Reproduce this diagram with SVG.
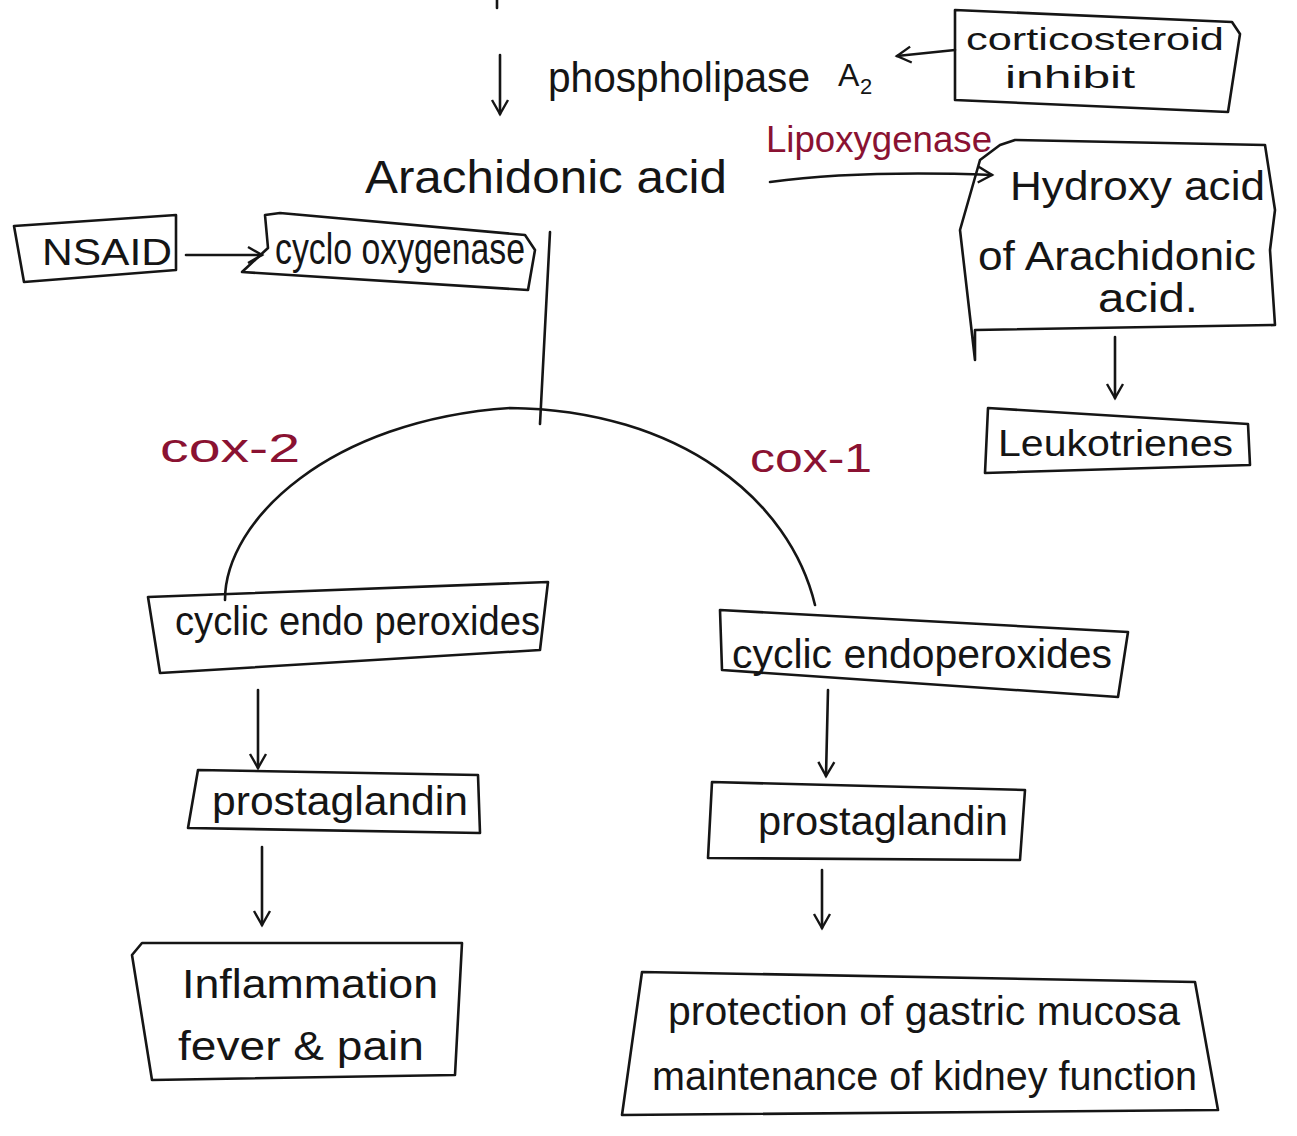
<svg xmlns="http://www.w3.org/2000/svg" width="1297" height="1136" viewBox="0 0 1297 1136">
<defs>
<style>
.ink{fill:none;stroke:#151515;stroke-width:2.6;stroke-linecap:round;stroke-linejoin:round}
.t{font-family:"Liberation Sans","DejaVu Sans",sans-serif;fill:#151515}
.r{font-family:"Liberation Sans","DejaVu Sans",sans-serif;fill:#8a1232}
</style>
<marker id="ah" viewBox="0 0 20 20" refX="16" refY="10" markerWidth="20" markerHeight="20" markerUnits="userSpaceOnUse" orient="auto">
<path d="M2,2 L16,10 L2,18" fill="none" stroke="#151515" stroke-width="2.4"/>
</marker>
</defs>
<rect width="1297" height="1136" fill="#ffffff"/>

<g id="connectors">
<line class="ink" x1="497" y1="0" x2="497" y2="8"/>
<line class="ink" x1="500" y1="55" x2="500" y2="114" marker-end="url(#ah)"/>
<line class="ink" x1="955" y1="50" x2="897" y2="56" marker-end="url(#ah)"/>
<path class="ink" d="M770,182 Q860,170 992,175" marker-end="url(#ah)"/>
<line class="ink" x1="186" y1="255" x2="262" y2="255" marker-end="url(#ah)"/>
<line class="ink" x1="550" y1="232" x2="540" y2="424"/>
<path class="ink" d="M225,600 C225,520 330,420 510,408 C680,410 790,500 815,605"/>
<line class="ink" x1="1115" y1="337" x2="1115" y2="398" marker-end="url(#ah)"/>
<line class="ink" x1="258" y1="690" x2="258" y2="768" marker-end="url(#ah)"/>
<line class="ink" x1="262" y1="847" x2="262" y2="925" marker-end="url(#ah)"/>
<line class="ink" x1="828" y1="690" x2="826" y2="776" marker-end="url(#ah)"/>
<line class="ink" x1="822" y1="870" x2="822" y2="928" marker-end="url(#ah)"/>
</g>

<g id="phospholipase">
<text class="t" x="548" y="92" font-size="42" textLength="262" lengthAdjust="spacingAndGlyphs">phospholipase</text>
<text class="t" x="838" y="86" font-size="32">A</text>
<text class="t" x="860" y="94" font-size="22">2</text>
</g>

<g id="corticosteroid">
<path class="ink" d="M955,10 L1232,22 L1240,34 L1228,112 L955,100 Z"/>
<text class="t" x="966" y="50" font-size="32" textLength="258" lengthAdjust="spacingAndGlyphs">corticosteroid</text>
<text class="t" x="1005" y="88" font-size="32" textLength="130" lengthAdjust="spacingAndGlyphs">inhibit</text>
</g>

<g id="arachidonic">
<text class="t" x="365" y="193" font-size="46" textLength="362" lengthAdjust="spacingAndGlyphs">Arachidonic acid</text>
</g>

<g id="lipoxygenase">
<text class="r" x="766" y="152" font-size="36" textLength="226" lengthAdjust="spacingAndGlyphs">Lipoxygenase</text>
</g>

<g id="hydroxy">
<path class="ink" d="M1000,145 L1015,140 L1265,145 L1275,210 L1270,250 L1275,325 L975,330 L975,360 L960,230 L980,160 Z"/>
<text class="t" x="1010" y="200" font-size="40" textLength="255" lengthAdjust="spacingAndGlyphs">Hydroxy acid</text>
<text class="t" x="978" y="270" font-size="40" textLength="278" lengthAdjust="spacingAndGlyphs">of Arachidonic</text>
<text class="t" x="1098" y="312" font-size="40" textLength="100" lengthAdjust="spacingAndGlyphs">acid.</text>
</g>

<g id="leukotrienes">
<path class="ink" d="M988,408 L1248,424 L1250,465 L985,473 Z"/>
<text class="t" x="998" y="456" font-size="36" textLength="235" lengthAdjust="spacingAndGlyphs">Leukotrienes</text>
</g>

<g id="nsaid">
<path class="ink" d="M14,226 L176,215 L176,270 L24,282 Z"/>
<text class="t" x="42" y="265" font-size="36" textLength="130" lengthAdjust="spacingAndGlyphs">NSAID</text>
</g>

<g id="cyclooxygenase">
<path class="ink" d="M265,215 L280,213 L525,235 L535,250 L528,290 L242,272 L268,248 Z"/>
<text class="t" x="275" y="264" font-size="44" textLength="250" lengthAdjust="spacingAndGlyphs">cyclo oxygenase</text>
</g>

<g id="cox2">
<text class="r" x="160" y="462" font-size="40" textLength="140" lengthAdjust="spacingAndGlyphs">cox-2</text>
</g>
<g id="cox1">
<text class="r" x="750" y="472" font-size="40" textLength="122" lengthAdjust="spacingAndGlyphs">cox-1</text>
</g>

<g id="cyclic-left">
<path class="ink" d="M148,597 L548,582 L540,650 L160,673 Z"/>
<text class="t" x="175" y="635" font-size="40" textLength="365" lengthAdjust="spacingAndGlyphs">cyclic endo peroxides</text>
</g>

<g id="cyclic-right">
<path class="ink" d="M720,610 L1128,632 L1118,697 L722,670 Z"/>
<text class="t" x="732" y="668" font-size="40" textLength="380" lengthAdjust="spacingAndGlyphs">cyclic endoperoxides</text>
</g>

<g id="prostaglandin-left">
<path class="ink" d="M198,770 L478,775 L480,833 L188,828 Z"/>
<text class="t" x="212" y="815" font-size="40" textLength="256" lengthAdjust="spacingAndGlyphs">prostaglandin</text>
</g>

<g id="prostaglandin-right">
<path class="ink" d="M712,782 L1025,790 L1020,860 L708,858 Z"/>
<text class="t" x="758" y="835" font-size="40" textLength="250" lengthAdjust="spacingAndGlyphs">prostaglandin</text>
</g>

<g id="inflammation">
<path class="ink" d="M142,943 L462,943 L455,1075 L152,1080 L132,955 Z"/>
<text class="t" x="182" y="998" font-size="40" textLength="256" lengthAdjust="spacingAndGlyphs">Inflammation</text>
<text class="t" x="178" y="1060" font-size="40" textLength="246" lengthAdjust="spacingAndGlyphs">fever &amp; pain</text>
</g>

<g id="protection">
<path class="ink" d="M642,972 L1195,982 L1218,1110 L622,1115 Z"/>
<text class="t" x="668" y="1025" font-size="40" textLength="512" lengthAdjust="spacingAndGlyphs">protection of gastric mucosa</text>
<text class="t" x="652" y="1090" font-size="40" textLength="545" lengthAdjust="spacingAndGlyphs">maintenance of kidney function</text>
</g>
</svg>
